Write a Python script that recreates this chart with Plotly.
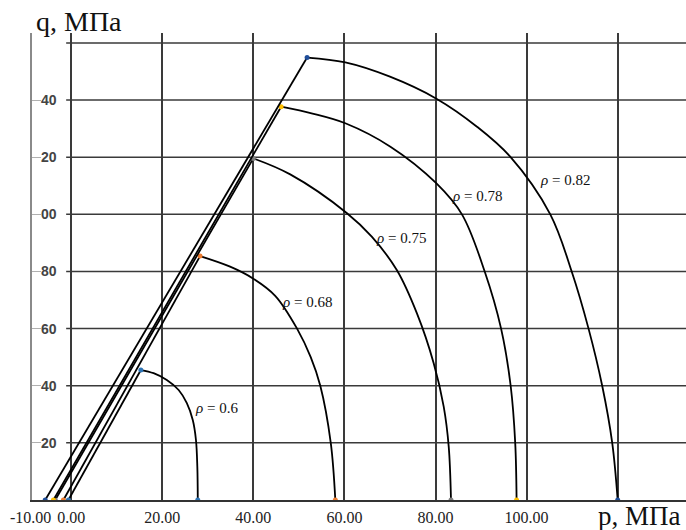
import plotly.graph_objects as go

# Cap curves in p-q space for several densities rho
rho_labels = ["0.6", "0.68", "0.75", "0.78", "0.82"]
p_origin = [-0.6, -1.7, -3.5, -3.9, -5.7]

arc_p = [
    [15.3, 18.1, 21.0, 23.6, 25.4, 26.7, 27.4, 27.7, 27.8],
    [28.3, 34.9, 40.0, 44.8, 49.6, 52.6, 54.7, 57.0, 58.0],
    [40.0, 48.1, 60.5, 66.0, 71.5, 75.9, 79.6, 81.8, 82.9, 83.4],
    [46.1, 53.0, 60.2, 70.1, 80.1, 85.8, 90.8, 94.4, 96.5, 97.5, 97.8],
    [51.8, 60.2, 70.0, 80.2, 89.1, 96.4, 105.2, 109.9, 113.6, 116.6, 118.8, 120.0],
]
arc_q = [
    [45.5, 44.4, 42.0, 38.5, 33.9, 28.0, 21.0, 11.7, 0.0],
    [85.4, 81.7, 77.5, 71.5, 60.0, 50.0, 40.0, 20.0, 0.0],
    [119.6, 114.0, 100.5, 92.2, 80.5, 65.4, 47.9, 32.7, 18.7, 0.0],
    [137.7, 135.3, 131.9, 123.7, 111.0, 100.0, 80.0, 60.0, 40.0, 20.0, 0.0],
    [154.9, 153.2, 148.2, 140.5, 130.7, 120.2, 100.0, 80.0, 60.0, 40.0, 20.0, 0.0],
]
point_colors = ["#2E75B6", "#ED7D31", "#7F7F7F", "#FFC000", "#1F4E9A"]

# label anchor (left edge, vertical centre) for each curve
label_p = [26.8, 45.9, 66.4, 83.1, 102.6]
label_q = [32.2, 69.4, 91.6, 106.4, 112.0]

# axis ticks
x_min, x_max = -8.6, 135.0
x_ticks = [0, 20, 40, 60, 80, 100, 120]
x_tick_text = ["0.00", "20.00", "40.00", "60.00", "80.00", "100.00", ""]
x_min_text = "-10.00"
y_ticks = [20, 40, 60, 80, 100, 120, 140]
y_tick_text = ["20", "40", "60", "80", "00", "20", "40"]
y_grid = [20, 40, 60, 80, 100, 120, 140, 160]

GRID = "#3a3a3a"
SERIF = "Liberation Serif"
TICK_COLOR = "#222"

fig = go.Figure()

for i, r in enumerate(rho_labels):
    # straight failure line from the p axis up to the cap
    fig.add_trace(go.Scatter(
        x=[p_origin[i], arc_p[i][0]], y=[0, arc_q[i][0]],
        mode="lines", line=dict(color="black", width=1.8),
        hoverinfo="skip"))
    # the cap itself
    fig.add_trace(go.Scatter(
        x=arc_p[i], y=arc_q[i], mode="lines",
        line=dict(color="black", width=1.8, shape="spline", smoothing=1.0),
        hoverinfo="skip"))
    # key points
    fig.add_trace(go.Scatter(
        x=[p_origin[i], arc_p[i][0], arc_p[i][-1]],
        y=[0, arc_q[i][0], arc_q[i][-1]],
        mode="markers", marker=dict(color=point_colors[i], size=5),
        hoverinfo="skip"))

shapes = [
    dict(type="line", xref="x", yref="y", x0=-1.1, x1=x_max, y0=v, y1=v,
         line=dict(color=GRID, width=1.5), layer="below")
    for v in y_grid
]

annotations = [
    dict(x=label_p[i], y=label_q[i], xref="x", yref="y",
         text="<i>ρ</i> = " + r, showarrow=False,
         xanchor="left", yanchor="middle",
         font=dict(family=SERIF, size=15, color="#111"))
    for i, r in enumerate(rho_labels)
]
W, H = 686, 530
L, R, T, B = 32, 0, 33, 30
PW, PH = W - L - R, H - T - B


def paper_x(px):
    return (px - L) / PW


def paper_y(py):
    return (H - B - py) / PH


# axis titles
annotations.append(dict(
    x=paper_x(34), y=paper_y(21), xref="paper", yref="paper",
    text="q, МПа", showarrow=False, xanchor="left", yanchor="middle",
    font=dict(family=SERIF, size=28, color="#111")))
annotations.append(dict(
    x=paper_x(683), y=paper_y(516), xref="paper", yref="paper",
    text="p, МПа", showarrow=False, xanchor="right", yanchor="middle",
    font=dict(family=SERIF, size=27, color="#111")))
# label at the left end of the p axis
annotations.append(dict(
    x=paper_x(30), y=paper_y(517), xref="paper", yref="paper",
    text=x_min_text, showarrow=False, xanchor="center", yanchor="middle",
    font=dict(family=SERIF, size=16, color=TICK_COLOR)))

fig.update_layout(
    width=W, height=H,
    margin=dict(l=L, r=R, t=T, b=B, pad=0),
    plot_bgcolor="white", paper_bgcolor="white",
    showlegend=False,
    shapes=shapes,
    annotations=annotations,
    xaxis=dict(
        range=[x_min, x_max], tickmode="array",
        tickvals=x_ticks, ticktext=x_tick_text,
        showgrid=True, gridcolor=GRID, gridwidth=1.5,
        zeroline=False, showline=True, linecolor="#333", linewidth=1.5,
        ticks="", ticklabelstandoff=2,
        tickfont=dict(family=SERIF, size=16, color=TICK_COLOR),
    ),
    yaxis=dict(
        range=[0, 163.5], tickmode="array",
        tickvals=y_ticks, ticktext=y_tick_text,
        showgrid=False, zeroline=False,
        showline=True, linecolor="#8a8a8a", linewidth=1.5,
        ticks="inside", ticklen=9, tickcolor="#b0b0b0", tickwidth=1,
        ticklabelposition="inside",
        tickfont=dict(family="Liberation Sans", size=14, color="#444", weight="bold"),
    ),
)

fig.write_html("out.html")
